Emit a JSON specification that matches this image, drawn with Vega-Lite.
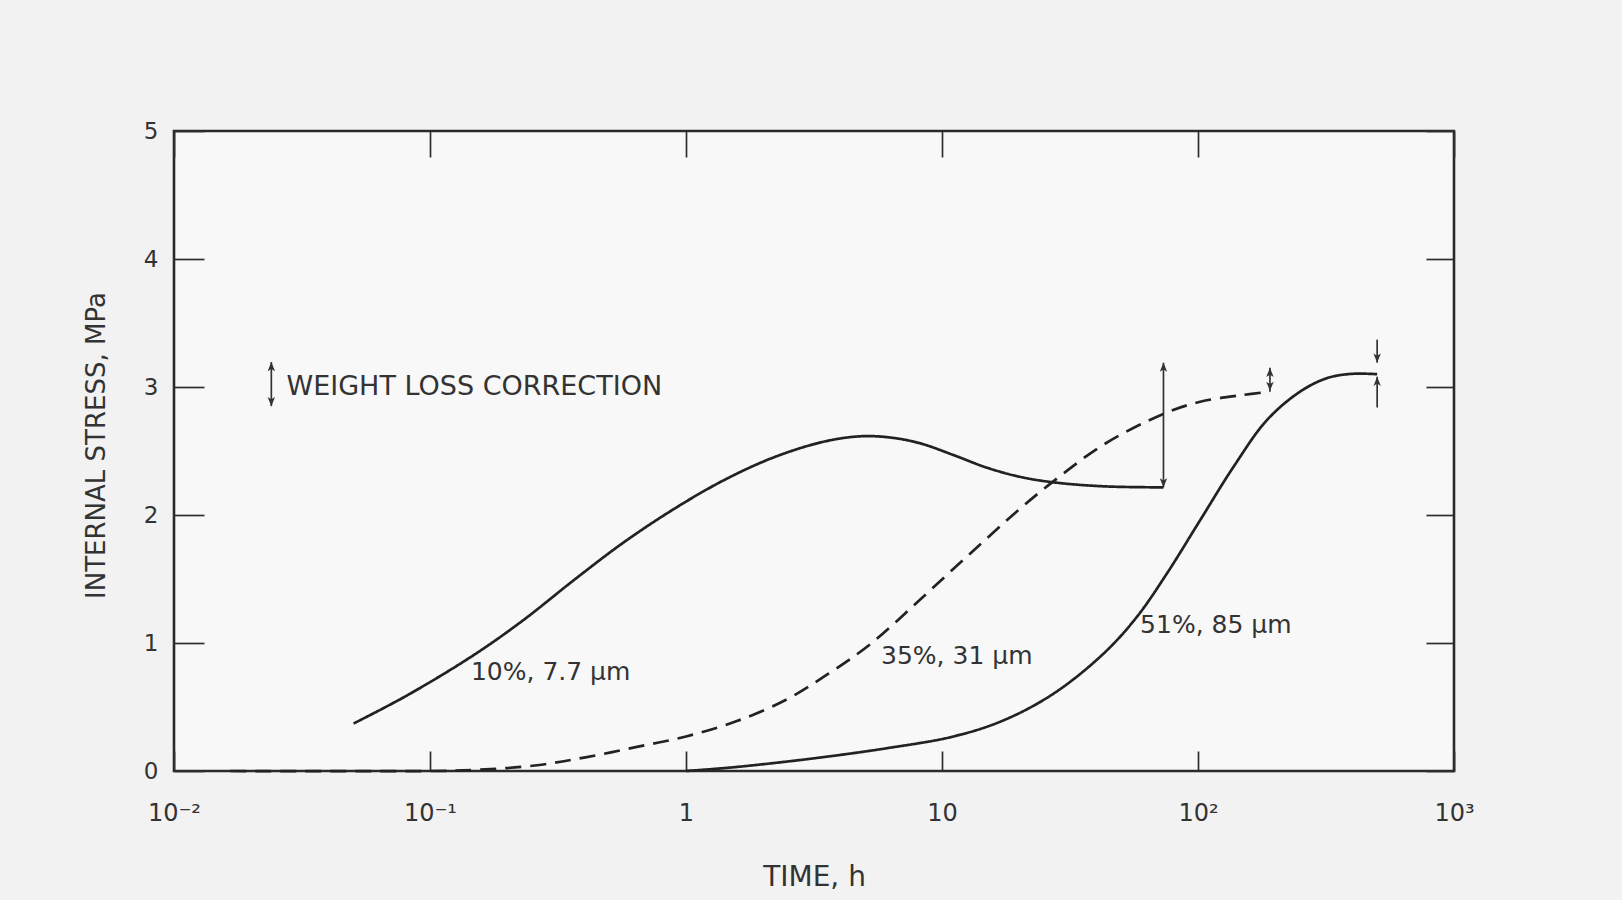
{
  "$schema": "https://vega.github.io/schema/vega-lite/v6.json",
  "width": 1280,
  "height": 640,
  "autosize": {"type": "none"},
  "padding": {"left": 174, "top": 131, "right": 168, "bottom": 129},
  "background": "#f2f2f2",
  "config": {
    "view": {"stroke": "#2a2a2a", "strokeWidth": 2.6, "fill": "#f8f8f8"},
    "axis": {"grid": false, "domain": false, "tickColor": "#2e2e2e", "tickWidth": 1.7, "labelFont": "DejaVu Sans", "titleFont": "DejaVu Sans", "labelColor": "#333333", "titleColor": "#333333", "titleFontWeight": "normal", "labelFlush": false, "labelOverlap": false}
  },
  "datasets": {
    "curves": [
      {"series": "10%", "t": 0.0503, "s": 0.371},
      {"series": "10%", "t": 0.0813, "s": 0.59},
      {"series": "10%", "t": 0.148, "s": 0.905},
      {"series": "10%", "t": 0.232, "s": 1.18},
      {"series": "10%", "t": 0.364, "s": 1.49},
      {"series": "10%", "t": 0.57, "s": 1.785},
      {"series": "10%", "t": 0.894, "s": 2.045},
      {"series": "10%", "t": 1.4, "s": 2.27},
      {"series": "10%", "t": 2.2, "s": 2.45},
      {"series": "10%", "t": 3.44, "s": 2.572},
      {"series": "10%", "t": 4.8, "s": 2.615},
      {"series": "10%", "t": 6.3, "s": 2.605},
      {"series": "10%", "t": 8.22, "s": 2.56},
      {"series": "10%", "t": 11.1, "s": 2.468},
      {"series": "10%", "t": 14.96, "s": 2.37},
      {"series": "10%", "t": 20.2, "s": 2.298},
      {"series": "10%", "t": 27.3, "s": 2.255},
      {"series": "10%", "t": 42.8, "s": 2.224},
      {"series": "10%", "t": 73.3, "s": 2.216},
      {"series": "35%", "t": 0.0166, "s": 0.0},
      {"series": "35%", "t": 0.1, "s": 0.0},
      {"series": "35%", "t": 0.15, "s": 0.008},
      {"series": "35%", "t": 0.262, "s": 0.045},
      {"series": "35%", "t": 0.41, "s": 0.109},
      {"series": "35%", "t": 0.643, "s": 0.188},
      {"series": "35%", "t": 1.0, "s": 0.27},
      {"series": "35%", "t": 1.58, "s": 0.39},
      {"series": "35%", "t": 2.48, "s": 0.56},
      {"series": "35%", "t": 3.6, "s": 0.76},
      {"series": "35%", "t": 5.24, "s": 0.99},
      {"series": "35%", "t": 8.22, "s": 1.34},
      {"series": "35%", "t": 12.9, "s": 1.70},
      {"series": "35%", "t": 20.2, "s": 2.05},
      {"series": "35%", "t": 27.3, "s": 2.265},
      {"series": "35%", "t": 42.8, "s": 2.55},
      {"series": "35%", "t": 73.3, "s": 2.79},
      {"series": "35%", "t": 102, "s": 2.885},
      {"series": "35%", "t": 146, "s": 2.935},
      {"series": "35%", "t": 191, "s": 2.963},
      {"series": "51%", "t": 1.0, "s": 0.0},
      {"series": "51%", "t": 1.36, "s": 0.02},
      {"series": "51%", "t": 1.84, "s": 0.045},
      {"series": "51%", "t": 3.34, "s": 0.105},
      {"series": "51%", "t": 6.09, "s": 0.178},
      {"series": "51%", "t": 11.1, "s": 0.27},
      {"series": "51%", "t": 17.4, "s": 0.396},
      {"series": "51%", "t": 27.3, "s": 0.605},
      {"series": "51%", "t": 42.8, "s": 0.918},
      {"series": "51%", "t": 57.7, "s": 1.204},
      {"series": "51%", "t": 75.6, "s": 1.543},
      {"series": "51%", "t": 102, "s": 1.96},
      {"series": "51%", "t": 137.7, "s": 2.377},
      {"series": "51%", "t": 186, "s": 2.742},
      {"series": "51%", "t": 251, "s": 2.965},
      {"series": "51%", "t": 320, "s": 3.07},
      {"series": "51%", "t": 400, "s": 3.103},
      {"series": "51%", "t": 501, "s": 3.1}
    ],
    "arrows": [
      {"t": 73.3, "s": 2.216, "s2": 3.19},
      {"t": 191, "s": 2.963, "s2": 3.15},
      {"t": 501, "s": 3.19, "s2": 3.37},
      {"t": 501, "s": 2.84, "s2": 3.08},
      {"t": 0.024, "s": 2.85, "s2": 3.195}
    ],
    "heads": [
      {"t": 73.3, "s": 3.19, "dir": "up"},
      {"t": 73.3, "s": 2.216, "dir": "down"},
      {"t": 191, "s": 3.15, "dir": "up"},
      {"t": 191, "s": 2.97, "dir": "down"},
      {"t": 501, "s": 3.19, "dir": "down"},
      {"t": 501, "s": 3.08, "dir": "up"},
      {"t": 0.024, "s": 3.195, "dir": "up"},
      {"t": 0.024, "s": 2.85, "dir": "down"}
    ],
    "labels": [
      {"t": 0.1445, "s": 0.77, "label": "10%, 7.7 μm"},
      {"t": 5.78, "s": 0.9, "label": "35%, 31 μm"},
      {"t": 59.4, "s": 1.14, "label": "51%, 85 μm"}
    ],
    "note": [
      {"t": 0.0275, "s": 3.0, "label": "WEIGHT LOSS CORRECTION"}
    ]
  },
  "layer": [
    {
      "data": {"name": "curves"},
      "mark": {"type": "line", "interpolate": "catmull-rom", "strokeWidth": 2.7, "color": "#222222"},
      "encoding": {
        "x": {"field": "t", "type": "quantitative", "scale": {"type": "log", "domain": [0.01, 1000], "nice": false},
          "axis": {"orient": "bottom", "values": [0.01, 0.1, 1, 10, 100, 1000],
            "labelExpr": "datum.value < 0.05 ? '10⁻²' : datum.value < 0.5 ? '10⁻¹' : datum.value < 5 ? '1' : datum.value < 50 ? '10' : datum.value < 500 ? '10²' : '10³'",
            "tickSize": -20, "labelPadding": 50, "labelFontSize": 24,
            "title": "TIME, h", "titleFontSize": 28, "titleY": 106, "titleBaseline": "middle"}},
        "y": {"field": "s", "type": "quantitative", "scale": {"domain": [0, 5], "nice": false, "zero": false},
          "axis": {"orient": "left", "values": [0, 1, 2, 3, 4, 5], "tickSize": -30, "labelPadding": 46, "labelFontSize": 23,
            "title": "INTERNAL STRESS, MPa", "titleFontSize": 26, "titleX": -78, "titleY": 314, "titleBaseline": "middle", "titleAlign": "center", "titleAngle": -90}},
        "strokeDash": {"field": "series", "type": "nominal", "scale": {"domain": ["10%", "35%", "51%"], "range": [[1, 0], [16, 9], [1, 0]]}, "legend": null}
      }
    },
    {
      "data": {"name": "arrows"},
      "mark": {"type": "rule", "strokeWidth": 1.7, "color": "#333333"},
      "encoding": {
        "x": {"field": "t", "type": "quantitative", "scale": {"type": "log", "domain": [0.01, 1000], "nice": false},
          "axis": {"orient": "top", "values": [0.01, 0.1, 1, 10, 100, 1000], "tickSize": -26, "labels": false, "title": null}},
        "y": {"field": "s", "type": "quantitative", "scale": {"domain": [0, 5], "nice": false, "zero": false},
          "axis": {"orient": "right", "values": [0, 1, 2, 3, 4, 5], "tickSize": -28, "labels": false, "title": null}},
        "y2": {"field": "s2"}
      }
    },
    {
      "data": {"name": "heads"},
      "mark": {"type": "point", "filled": true, "opacity": 1, "size": 130, "color": "#333333", "strokeWidth": 0},
      "encoding": {
        "x": {"field": "t", "type": "quantitative", "scale": {"type": "log", "domain": [0.01, 1000], "nice": false}, "axis": null},
        "y": {"field": "s", "type": "quantitative", "scale": {"domain": [0, 5], "nice": false, "zero": false}, "axis": null},
        "shape": {"field": "dir", "type": "nominal", "scale": {"domain": ["up", "down"], "range": ["M0,0L-0.65,1.6L0,1.2L0.65,1.6Z", "M0,0L-0.65,-1.6L0,-1.2L0.65,-1.6Z"]}, "legend": null}
      }
    },
    {
      "data": {"name": "labels"},
      "mark": {"type": "text", "align": "left", "baseline": "middle", "font": "DejaVu Sans", "fontSize": 25, "color": "#333333"},
      "encoding": {
        "x": {"field": "t", "type": "quantitative", "scale": {"type": "log", "domain": [0.01, 1000], "nice": false}, "axis": null},
        "y": {"field": "s", "type": "quantitative", "scale": {"domain": [0, 5], "nice": false, "zero": false}, "axis": null},
        "text": {"field": "label"}
      }
    },
    {
      "data": {"name": "note"},
      "mark": {"type": "text", "align": "left", "baseline": "middle", "font": "DejaVu Sans", "fontSize": 27, "color": "#333333"},
      "encoding": {
        "x": {"field": "t", "type": "quantitative", "scale": {"type": "log", "domain": [0.01, 1000], "nice": false}, "axis": null},
        "y": {"field": "s", "type": "quantitative", "scale": {"domain": [0, 5], "nice": false, "zero": false}, "axis": null},
        "text": {"field": "label"}
      }
    }
  ],
  "resolve": {"axis": {"x": "independent", "y": "independent"}}
}
